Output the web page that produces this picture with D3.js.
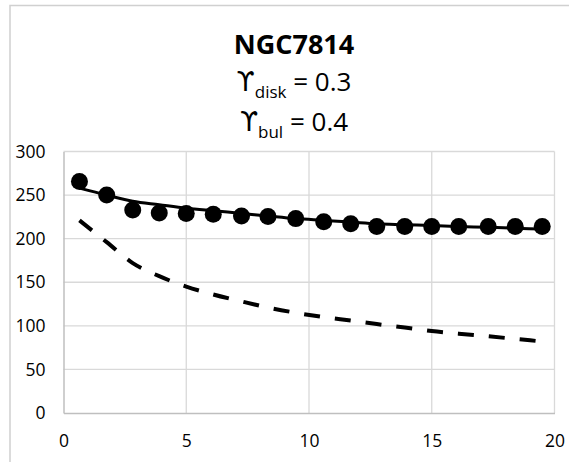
<!DOCTYPE html>
<html><head><meta charset="utf-8">
<script src="https://cdn.jsdelivr.net/npm/d3@7"></script>
<style>body{margin:0;background:#fff}svg{display:block}</style>
</head><body>
<script>
const radius = [0.65,1.76,2.82,3.9,5.0,6.1,7.25,8.33,9.46,10.6,11.7,12.76,13.9,15.0,16.1,17.3,18.4,19.5];
const observed = [265.5,250,233,229.5,229,228,226,225.5,223,219.5,217,214,214,214,214,214,214,214];
const modelTotal = [258,250,243,239,235,232,229,226,223,221,219,217,216,215,214,213,212,211];
const modelDisk = [221,196,172,157,145,136,128,121,115,110,106,102,98,94,91,88,85,82];
const xTicks = [0,5,10,15,20];
const yTicks = [0,50,100,150,200,250,300];
const titleText = "NGC7814";
const line2 = ["ϒ","disk"," = 0.3"];
const line3 = ["ϒ","bul"," = 0.4"];

const W=569,H=462;
const svg=d3.select("body").append("svg").attr("width",W).attr("height",H);
const font="'Open Sans', sans-serif";
// chart border
svg.append("rect").attr("x",10).attr("y",5.5).attr("width",W+20).attr("height",H+20)
  .attr("fill","#fff").attr("stroke","#d0d0d0").attr("stroke-width",1.5);

const x=d3.scaleLinear().domain([0,20]).range([63.5,554.5]);
const y=d3.scaleLinear().domain([0,300]).range([413,151.5]);

// gridlines
svg.append("g").selectAll("line").data(yTicks.filter(d=>d>0)).join("line")
  .attr("x1",x(0)).attr("x2",x(20)).attr("y1",d=>y(d)).attr("y2",d=>y(d))
  .attr("stroke","#d9d9d9").attr("stroke-width",1.3);
svg.append("g").selectAll("line").data(xTicks.filter(d=>d>0)).join("line")
  .attr("y1",y(0)).attr("y2",y(300)).attr("x1",d=>x(d)).attr("x2",d=>x(d))
  .attr("stroke","#d9d9d9").attr("stroke-width",1.3);
// axes
const xa=svg.append("g").attr("transform",`translate(0,${y(0)})`)
  .call(d3.axisBottom(x).tickValues(xTicks).tickSize(0).tickPadding(22));
const ya=svg.append("g").attr("transform",`translate(${x(0)},0)`)
  .call(d3.axisLeft(y).tickValues(yTicks).tickSize(0).tickPadding(18));
[xa,ya].forEach(a=>{
  a.select(".domain").attr("stroke","#bfbfbf").attr("stroke-width",1.5);
  a.selectAll("text").attr("font-family",font).attr("font-size",17.5).attr("fill","#000");
});

// dashed disk
svg.append("path").datum(radius.map((r,i)=>[r,modelDisk[i]]))
  .attr("d",d3.line().x(d=>x(d[0])).y(d=>y(d[1])).curve(d3.curveMonotoneX))
  .attr("fill","none").attr("stroke","#000").attr("stroke-width",4)
  .attr("stroke-dasharray","16,15");
// total model
svg.append("path").datum(radius.map((r,i)=>[r,modelTotal[i]]))
  .attr("d",d3.line().x(d=>x(d[0])).y(d=>y(d[1])).curve(d3.curveMonotoneX))
  .attr("fill","none").attr("stroke","#000").attr("stroke-width",3);
// observed
svg.append("g").selectAll("circle").data(radius.map((r,i)=>[r,observed[i]])).join("circle")
  .attr("cx",d=>x(d[0])).attr("cy",d=>y(d[1])).attr("r",8.5).attr("fill","#000");

// title
const cx=294;
svg.append("text").attr("x",cx).attr("y",54).attr("text-anchor","middle")
  .attr("font-family",font).attr("font-weight","bold").attr("font-size",27).text(titleText);
function sub(parts,yy){
  const t=svg.append("text").attr("x",cx).attr("y",yy).attr("text-anchor","middle")
    .attr("font-family",font).attr("font-size",26);
  t.append("tspan").attr("font-family","'DejaVu Sans', sans-serif").text(parts[0]);
  t.append("tspan").attr("font-size",17).attr("dy",7).text(parts[1]);
  t.append("tspan").attr("dy",-7).text(parts[2]);
}
sub(line2,91);
sub(line3,131);
</script>
</body></html>
